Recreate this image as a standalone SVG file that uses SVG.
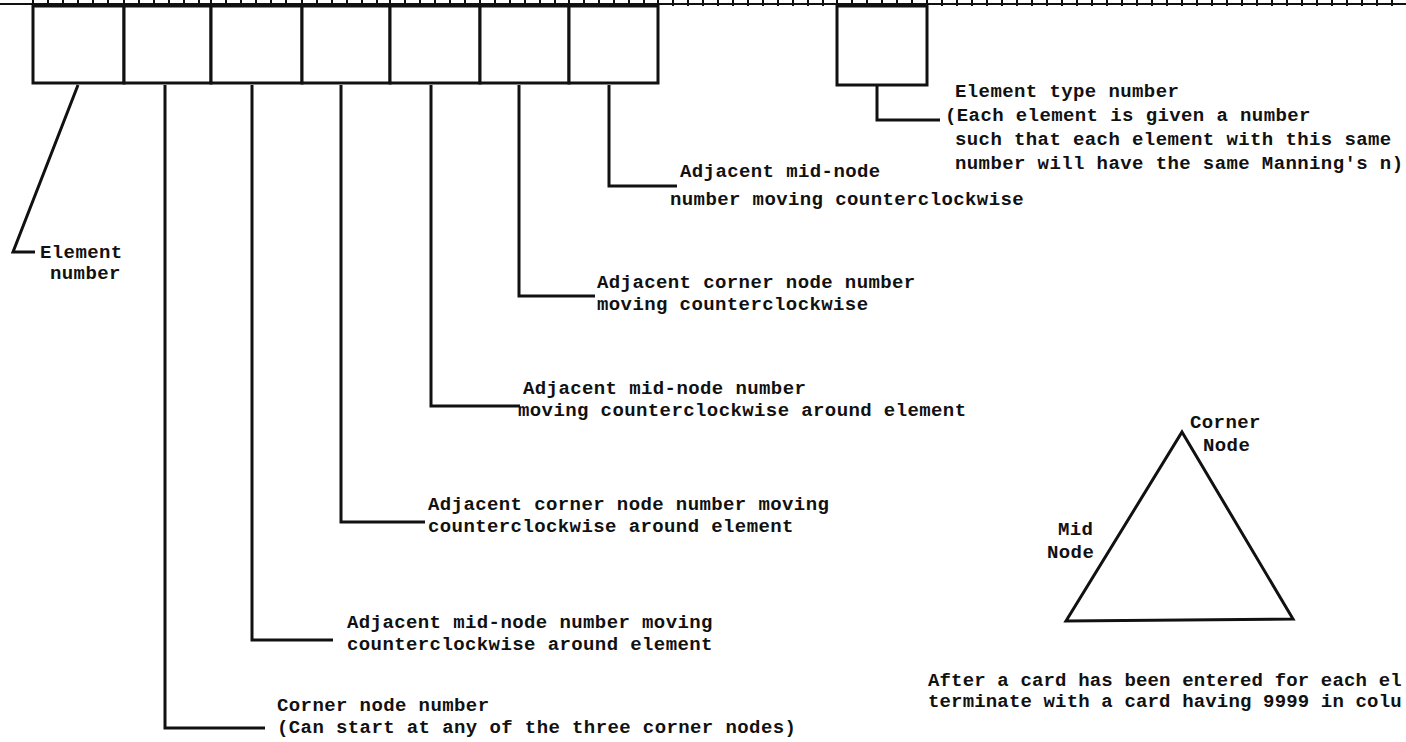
<svg xmlns="http://www.w3.org/2000/svg" width="1406" height="742" viewBox="0 0 1406 742">
<style>
.t{font-family:"Liberation Mono","DejaVu Sans Mono",monospace;font-size:19px;letter-spacing:0.4px;fill:#111;font-weight:bold}
.b{fill:#fff;stroke:#111;stroke-width:3}
.l{fill:none;stroke:#111;stroke-width:3}
.r{fill:none;stroke:#111;stroke-width:2}
</style>
<rect width="1406" height="742" fill="#fff"/>
<g id="ruler">
<line class="r" x1="0" y1="4" x2="1406" y2="4"/>
<path class="r" d="M33 0V6M48 0V6M63 0V6M78 0V6M93 0V6M108 0V6M124 0V6M139 0V6M154 0V6M169 0V6M184 0V6M199 0V6M211 0V6M226 0V6M241 0V6M256 0V6M271 0V6M286 0V6M302 0V6M317 0V6M332 0V6M347 0V6M362 0V6M377 0V6M390 0V6M405 0V6M420 0V6M435 0V6M450 0V6M465 0V6M480 0V6M495 0V6M510 0V6M525 0V6M540 0V6M555 0V6M569 0V6M584 0V6M599 0V6M614 0V6M629 0V6M644 0V6M658 0V6M673 0V6M688 0V6M703 0V6M718 0V6M733 0V6M748 0V6M763 0V6M778 0V6M793 0V6M808 0V6M823 0V6M837 0V6M852 0V6M867 0V6M882 0V6M897 0V6M912 0V6M927 0V6M942 0V6M957 0V6M972 0V6M987 0V6M1002 0V6M1017 0V6M1032 0V6M1047 0V6M1062 0V6M1077 0V6M1092 0V6M1107 0V6M1122 0V6M1137 0V6M1152 0V6M1167 0V6M1182 0V6M1197 0V6M1212 0V6M1227 0V6M1242 0V6M1257 0V6M1272 0V6M1287 0V6M1302 0V6M1317 0V6M1332 0V6M1347 0V6M1362 0V6M1377 0V6M1392 0V6"/>
</g>
<g id="box-element"><rect class="b" x="33" y="6" width="91" height="77"/></g>
<g id="box-corner1"><rect class="b" x="124" y="6" width="87" height="77"/></g>
<g id="box-mid1"><rect class="b" x="211" y="6" width="91" height="77"/></g>
<g id="box-corner2"><rect class="b" x="302" y="6" width="88" height="77"/></g>
<g id="box-mid2"><rect class="b" x="390" y="6" width="90" height="77"/></g>
<g id="box-corner3"><rect class="b" x="480" y="6" width="89" height="77"/></g>
<g id="box-mid3"><rect class="b" x="569" y="6" width="89" height="77"/></g>
<g id="box-type"><rect class="b" x="837" y="6" width="90" height="79"/></g>
<g id="connectors">
<polyline class="l" points="78,85 13,252 35,252"/>
<polyline class="l" points="165,85 165,728 265,728"/>
<polyline class="l" points="252,85 252,640 333,640"/>
<polyline class="l" points="341,85 341,522 425,522"/>
<polyline class="l" points="431,85 431,406 520,406"/>
<polyline class="l" points="519,85 519,296 595,296"/>
<polyline class="l" points="609,85 609,186 677,186"/>
<polyline class="l" points="877,86 877,120 940,120"/>
</g>
<g id="label-element">
<text class="t" x="40" y="258">Element</text>
<text class="t" x="50" y="279">number</text>
</g>
<g id="label-corner1">
<text class="t" x="277" y="711">Corner node number</text>
<text class="t" x="277" y="733">(Can start at any of the three corner nodes)</text>
</g>
<g id="label-mid1">
<text class="t" x="347" y="628">Adjacent mid-node number moving</text>
<text class="t" x="347" y="650">counterclockwise around element</text>
</g>
<g id="label-corner2">
<text class="t" x="428" y="510">Adjacent corner node number moving</text>
<text class="t" x="428" y="532">counterclockwise around element</text>
</g>
<g id="label-mid2">
<text class="t" x="523" y="394">Adjacent mid-node number</text>
<text class="t" x="518" y="416">moving counterclockwise around element</text>
</g>
<g id="label-corner3">
<text class="t" x="597" y="288">Adjacent corner node number</text>
<text class="t" x="597" y="310">moving counterclockwise</text>
</g>
<g id="label-mid3">
<text class="t" x="680" y="177">Adjacent mid-node</text>
<text class="t" x="670" y="205">number moving counterclockwise</text>
</g>
<g id="label-type">
<text class="t" x="955" y="97">Element type number</text>
<text class="t" x="945" y="121">(Each element is given a number</text>
<text class="t" x="955" y="145">such that each element with this same</text>
<text class="t" x="955" y="169">number will have the same Manning's n)</text>
</g>
<g id="triangle">
<polygon class="l" points="1182,432 1293,619 1066,621"/>
<text class="t" x="1190" y="428">Corner</text>
<text class="t" x="1203" y="451">Node</text>
<text class="t" x="1058" y="535">Mid</text>
<text class="t" x="1047" y="558">Node</text>
</g>
<g id="note">
<text class="t" x="928" y="686" textLength="474" lengthAdjust="spacing">After a card has been entered for each el</text>
<text class="t" x="928" y="707" textLength="474" lengthAdjust="spacing">terminate with a card having 9999 in colu</text>
</g>
</svg>
